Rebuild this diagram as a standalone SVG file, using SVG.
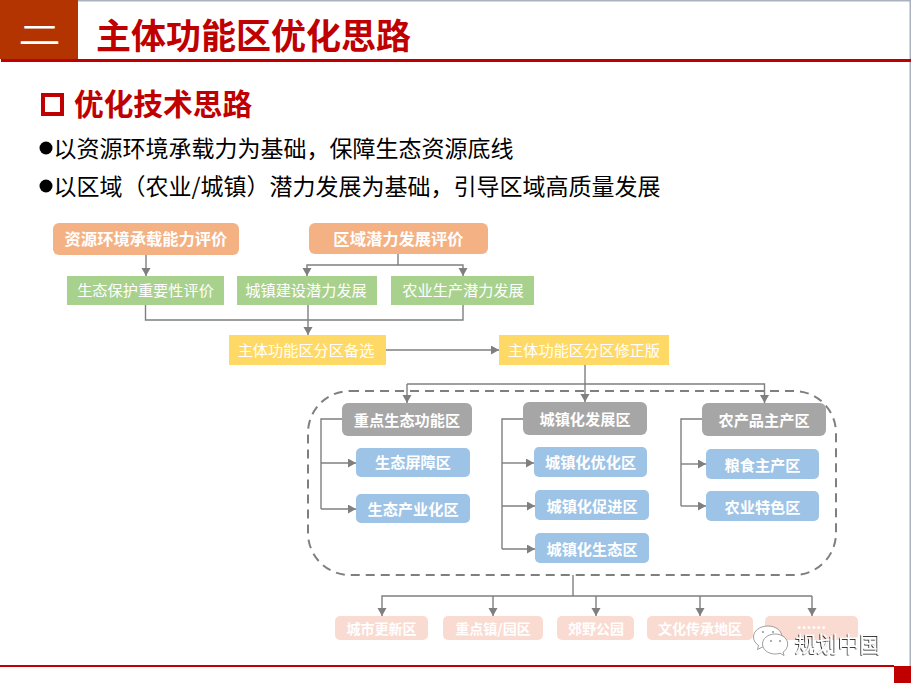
<svg xmlns="http://www.w3.org/2000/svg" width="911" height="683" viewBox="0 0 911 683">
<defs>
<marker id="ah" markerUnits="userSpaceOnUse" markerWidth="10" markerHeight="10" refX="8" refY="4.5" orient="auto"><path d="M0,0L8,4.5L0,9z" fill="#7f7f7f"/></marker>
<filter id="sh" x="-10%" y="-20%" width="120%" height="140%"><feDropShadow dx="-0.8" dy="0.8" stdDeviation="0.25" flood-color="#111"/></filter>
</defs>
<style>
text{font-family:"Noto Sans CJK SC","Noto Sans",sans-serif;text-anchor:middle}
.c{fill:none;stroke:#7f7f7f;stroke-width:1.4}
.a{fill:none;stroke:#7f7f7f;stroke-width:1.4;marker-end:url(#ah)}
.or rect{fill:#f4b183}.gr rect{fill:#a9d18e}.ye rect{fill:#ffd966}.gy rect{fill:#a6a6a6}.bl rect{fill:#9dc3e6}.pk rect{fill:#fadbd2}
.or text{fill:#fff;font-size:16.3px;font-weight:700}
.gr text,.ye text{fill:#fff;font-size:15.2px}
.gy text,.bl text{fill:#fff;font-size:15.2px;font-weight:700}
.pk text{fill:#fff;font-size:14px;font-weight:700}
.b{fill:#000;font-size:23px;text-anchor:start}
</style>
<rect width="911" height="683" fill="#fff"/>
<g id="header">
<rect x="78" y="0" width="833" height="1.500" fill="#a9b2bd"/>
<rect x="909.500" y="0" width="1.500" height="666" fill="#a9b2bd"/>
<rect x="0" y="0" width="78" height="59" fill="#b33400"/>
<rect x="1" y="59" width="910" height="3" fill="#c00000"/>
<text transform="translate(39.500,44) scale(1.050,0.620)" x="0" y="0" fill="#fff" font-size="40" font-weight="500">二</text>
<text x="96" y="49" fill="#c00000" font-size="35" font-weight="700" style="text-anchor:start">主体功能区优化思路</text>
<rect x="43" y="95" width="19" height="19" fill="none" stroke="#c00000" stroke-width="4"/>
<text x="74" y="115" fill="#c00000" font-size="29.700" font-weight="700" style="text-anchor:start">优化技术思路</text>
<circle cx="46" cy="148" r="6.500" fill="#000"/>
<text class="b" x="53.500" y="157">以资源环境承载力为基础，保障生态资源底线</text>
<circle cx="46" cy="186" r="6.500" fill="#000"/>
<text class="b" x="53.500" y="195">以区域（农业/城镇）潜力发展为基础，引导区域高质量发展</text>
<rect x="0" y="665" width="894" height="2" fill="#c00000"/>
<rect x="894" y="666" width="17" height="17" fill="#c00000"/>
</g>
<g id="connectors">
<path class="a" d="M146,255V276"/>
<path class="c" d="M398,254V265"/>
<path class="a" d="M398,265H307V276"/>
<path class="a" d="M398,265H463V276"/>
<path class="c" d="M145.500,305V320H463V305"/>
<path class="a" d="M308,305V335"/>
<path class="a" d="M386,350H499"/>
<path class="a" d="M585,365V402"/>
<path class="c" d="M585,384H407"/>
<path class="a" d="M407,384V403"/>
<path class="a" d="M585,384H764.500V403"/>
<rect x="308" y="391" width="528" height="184" rx="42" ry="42" fill="none" stroke="#7f7f7f" stroke-width="2" stroke-dasharray="9 6"/>
<path class="c" d="M342,419H321V509"/>
<path class="a" d="M321,463H356"/>
<path class="a" d="M321,509H356"/>
<path class="c" d="M523,419H502V549"/>
<path class="a" d="M502,463H534"/>
<path class="a" d="M502,506H535"/>
<path class="a" d="M502,549H535"/>
<path class="c" d="M702,419H681V506"/>
<path class="a" d="M681,464H706"/>
<path class="a" d="M681,506H706"/>
<path class="c" d="M573,575V596"/>
<path class="a" d="M812,596H382V616"/>
<path class="a" d="M493,596V616"/>
<path class="a" d="M596,596V616"/>
<path class="a" d="M700,596V616"/>
<path class="a" d="M812,596V616"/>
</g>
<g id="n1" class="or"><rect x="53" y="223" width="186" height="32" rx="6"/><text x="146" y="245">资源环境承载能力评价</text></g>
<g id="n2" class="or"><rect x="309" y="223" width="179" height="31" rx="6"/><text x="398.500" y="245">区域潜力发展评价</text></g>
<g id="n3" class="gr"><rect x="67" y="276" width="157" height="29"/><text x="145.500" y="296">生态保护重要性评价</text></g>
<g id="n4" class="gr"><rect x="237" y="276" width="140" height="29"/><text x="306" y="296">城镇建设潜力发展</text></g>
<g id="n5" class="gr"><rect x="391" y="276" width="143" height="29"/><text x="463" y="296">农业生产潜力发展</text></g>
<g id="n6" class="ye"><rect x="229" y="335" width="157" height="30"/><text x="306" y="356">主体功能区分区备选</text></g>
<g id="n7" class="ye"><rect x="499" y="335" width="170" height="30"/><text x="584" y="356">主体功能区分区修正版</text></g>
<g id="n8" class="gy"><rect x="342" y="403" width="130" height="33" rx="6"/><text x="407" y="426">重点生态功能区</text></g>
<g id="n9" class="gy"><rect x="523" y="402" width="124" height="33" rx="6"/><text x="585" y="425">城镇化发展区</text></g>
<g id="n10" class="gy"><rect x="702" y="403" width="124" height="33" rx="6"/><text x="764" y="426">农产品主产区</text></g>
<g id="n11" class="bl"><rect x="356" y="448" width="114" height="29" rx="5"/><text x="413" y="468">生态屏障区</text></g>
<g id="n12" class="bl"><rect x="356" y="494" width="114" height="29" rx="5"/><text x="413" y="515">生态产业化区</text></g>
<g id="n13" class="bl"><rect x="534" y="447" width="113" height="30" rx="5"/><text x="590.500" y="468">城镇化优化区</text></g>
<g id="n14" class="bl"><rect x="535" y="490" width="114" height="30" rx="5"/><text x="592" y="512">城镇化促进区</text></g>
<g id="n15" class="bl"><rect x="535" y="533" width="114" height="30" rx="5"/><text x="592" y="555">城镇化生态区</text></g>
<g id="n16" class="bl"><rect x="706" y="449" width="113" height="30" rx="5"/><text x="762.500" y="471">粮食主产区</text></g>
<g id="n17" class="bl"><rect x="706" y="491" width="113" height="30" rx="5"/><text x="762.500" y="513">农业特色区</text></g>
<g id="n18" class="pk"><rect x="335" y="616" width="93" height="24" rx="5"/><text x="381.500" y="634">城市更新区</text></g>
<g id="n19" class="pk"><rect x="443" y="616" width="100" height="24" rx="5"/><text x="493" y="634">重点镇/园区</text></g>
<g id="n20" class="pk"><rect x="557" y="616" width="77" height="24" rx="5"/><text x="596" y="634">郊野公园</text></g>
<g id="n21" class="pk"><rect x="647" y="616" width="106" height="24" rx="5"/><text x="700" y="634">文化传承地区</text></g>
<g id="n22" class="pk"><rect x="765" y="616" width="93" height="24" rx="5"/><text x="811.500" y="629" style="font-size:15px">......</text></g>
<g id="watermark">
<path d="M768,626c-8.500,0-14.500,5-14.500,11c0,3.500,2,6.500,5,8.500l-1,4l5-2.500c2,.5 3.500,.7 5.500,.7c8,0 14,-5 14,-10.700c0,-6-6-11-14-11z" fill="#fff" stroke="#888" stroke-width="0.800"/>
<path d="M775,634c-7,0-12.500,4.500-12.500,10c0,5.500 5.500,10 12.500,10c1.800,0 3.500,-.3 5,-.8l4,2.300l-.8,-3.500c2.800,-1.800 4.500,-4.700 4.500,-8c0,-5.500-5.500-10-12.500-10z" fill="#fff" stroke="#888" stroke-width="0.800"/>
<circle cx="763" cy="632" r="0.900" fill="#888"/><circle cx="773" cy="632" r="0.900" fill="#888"/>
<circle cx="771" cy="641" r="0.900" fill="#888"/><circle cx="780" cy="641" r="0.900" fill="#888"/>
<text x="838" y="652" fill="#fff" font-size="21.500" filter="url(#sh)">规划中国</text>
</g>
</svg>
